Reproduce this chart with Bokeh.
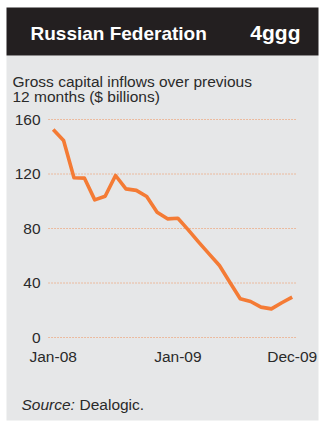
from bokeh.plotting import figure
from bokeh.models import Label, BoxAnnotation, Range1d
from bokeh.embed import file_html
from bokeh.resources import INLINE

months = ["Jan-08", "Feb-08", "Mar-08", "Apr-08", "May-08", "Jun-08", "Jul-08", "Aug-08",
          "Sep-08", "Oct-08", "Nov-08", "Dec-08", "Jan-09", "Feb-09", "Mar-09", "Apr-09",
          "May-09", "Jun-09", "Jul-09", "Aug-09", "Sep-09", "Oct-09", "Nov-09", "Dec-09"]
inflows = [152.7, 144.6, 117.2, 117.0, 101.0, 103.7, 118.9, 109.1, 108.0, 103.5, 92.0, 87.1,
           87.5, 79.0, 70.0, 61.4, 52.8, 40.6, 28.4, 26.4, 22.3, 21.0, 25.5, 29.6]
y_ticks = [0, 40, 80, 120, 160]
x_tick_pos = [0, 12, 23]
x_tick_labels = ["Jan-08", "Jan-09", "Dec-09"]
title = "Russian Federation"
code = "4ggg"
subtitle = ["Gross capital inflows over previous", "12 months ($ billions)"]
source_lead = "Source:"
source_name = "Dealogic."

BG = "#e6e7e8"
DARK = "#231f20"
ORANGE = "#f47b35"
TXT = "#2a2a2a"
FONT = "Liberation Sans"
FS = "15.5px"

W, H = 321, 424
x = list(range(len(months)))

# plot area spans whole canvas; x: 10.39 px per month, y: 1.3625 px per $bn
p = figure(width=W, height=H, output_backend="svg", toolbar_location=None,
           x_axis_type=None, y_axis_type=None,
           x_range=Range1d(-5.072, 25.823), y_range=Range1d(-63.85, 247.34),
           min_border=0)
p.min_border_left = p.min_border_right = p.min_border_top = p.min_border_bottom = 0
p.background_fill_color = "white"
p.border_fill_color = "white"
p.outline_line_color = None

def sbox(l, r, t, b, color):
    # screen units are measured from the frame's left / bottom
    return BoxAnnotation(left=l, right=r, top=H - t, bottom=H - b,
                         left_units="screen", right_units="screen",
                         top_units="screen", bottom_units="screen",
                         fill_color=color, fill_alpha=1, line_color=None, level="underlay")

p.add_layout(sbox(6, 318, 55, 420, BG))
p.add_layout(sbox(6, 318, 7, 55, DARK))

# dotted gridlines across the plotting area
gx0, gx1 = -0.45, 23.42
p.segment(x0=[gx0] * len(y_ticks), x1=[gx1] * len(y_ticks), y0=y_ticks, y1=y_ticks,
          line_color=ORANGE, line_width=1, line_dash="1 2", line_alpha=0.8)

# y tick labels
p.text(x=[gx0] * len(y_ticks), y=y_ticks, text=[str(t) for t in y_ticks],
       text_align="right", text_baseline="middle", x_offset=-8, y_offset=0,
       text_font={"value": FONT}, text_font_size={"value": FS}, text_color=TXT)
# x tick labels
p.text(x=x_tick_pos, y=[0] * len(x_tick_pos), text=x_tick_labels,
       text_align="center", text_baseline="middle", y_offset=18.8,
       text_font={"value": FONT}, text_font_size={"value": FS}, text_color=TXT)

p.line(x, inflows, line_color=ORANGE, line_width=3.6, line_join="round")

def slabel(sx, mid, text, size=FS, style="normal", color=TXT, align="left"):
    return Label(x=sx, y=H - mid, x_units="screen", y_units="screen", text=text,
                 text_font=FONT, text_font_size=size, text_font_style=style,
                 text_color=color, text_align=align, text_baseline="middle")

p.add_layout(slabel(30, 32.5, title, size="19px", style="bold", color="white"))
p.add_layout(slabel(300, 31.5, code, size="21px", style="bold", color="white", align="right"))
p.add_layout(slabel(12, 80.5, subtitle[0]))
p.add_layout(slabel(12, 95.5, subtitle[1]))
p.add_layout(slabel(21, 404, source_lead, style="italic"))
p.add_layout(slabel(79, 404, source_name))

open("out.html", "w").write(file_html(p, INLINE))
